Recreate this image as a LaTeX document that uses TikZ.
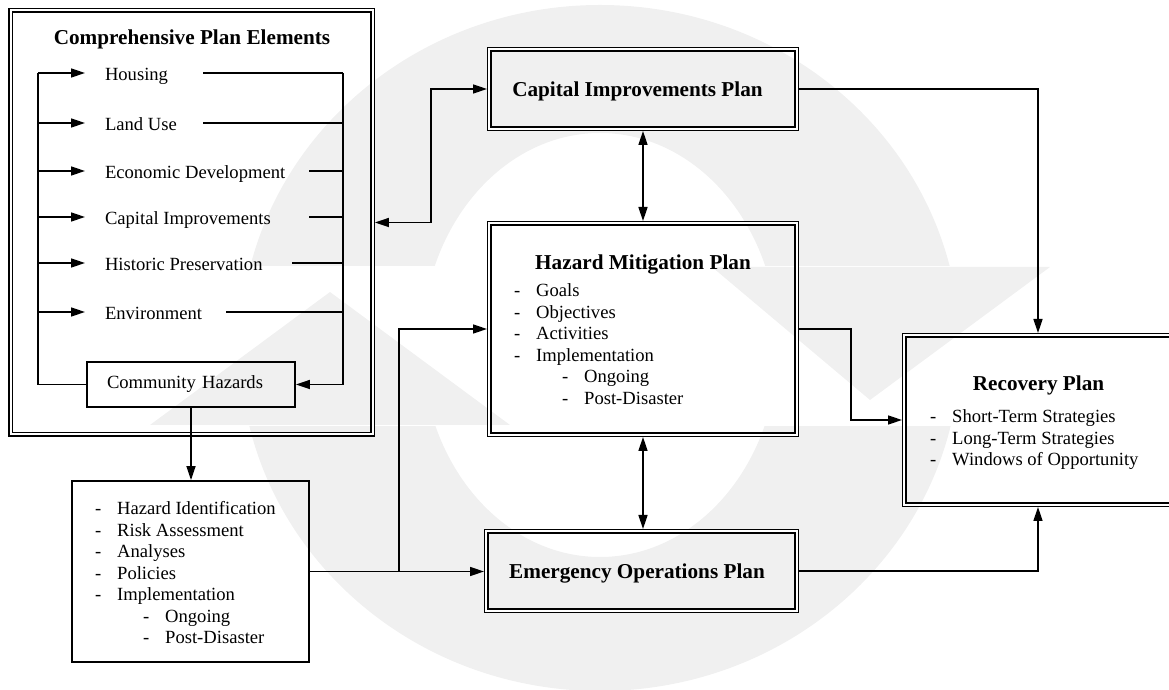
\documentclass[tikz,border=0pt]{standalone}
\usepackage{fontspec}
\setmainfont{Liberation Serif}
\usetikzlibrary{arrows.meta,positioning}

\newcommand{\bodyfont}{\fontsize{18.6}{21.5}\selectfont}
\newcommand{\headfont}{\fontsize{21.2}{25}\selectfont\bfseries}
\newcommand{\topdash}[1]{\makebox[22pt][l]{-}#1}
\newcommand{\subdash}[1]{\hspace*{48pt}\topdash{#1}}

\begin{document}
\begin{tikzpicture}[x=1pt, y=1pt, >={Triangle[length=14pt, width=9pt]},
    planbox/.style={draw, double, double distance=2pt, line width=1.4pt, inner sep=0pt, outer sep=2.4pt},
    plainbox/.style={draw, line width=1.8pt, inner sep=0pt, outer sep=0.9pt},
    head/.style={anchor=base, inner sep=0pt, font=\headfont},
    element/.style={anchor=west, inner sep=0pt, outer xsep=20pt, text height=16pt, text depth=0pt, font=\bodyfont},
    points/.style={anchor=base west, inner sep=0pt, font=\bodyfont},
    link/.style={line width=1.6pt},
    logo/.style={fill=gray!12}]

        \useasboundingbox (0,0) rectangle (1169,690);
        \clip (0,0) rectangle (1169,690);

        % faint logo behind the chart
        \begin{scope}
            \clip (0,424) rectangle (1169,690);
            \fill[logo, even odd rule] (600,342) ellipse [x radius=360pt, y radius=343pt] (600,345) ellipse [x radius=178pt, y radius=212pt];
        \end{scope}
        \begin{scope}
            \clip (0,0) rectangle (1169,263);
            \fill[logo, even odd rule] (600,342) ellipse [x radius=360pt, y radius=343pt] (600,345) ellipse [x radius=178pt, y radius=212pt];
        \end{scope}
        \fill[logo] (150,265) -- (510,265) -- (330,398) -- cycle;
        \fill[logo] (712,423) -- (1050,423) -- (870,290) -- cycle;

        % comprehensive plan
        \node[planbox, minimum width=362pt, minimum height=424pt] (cpe) at (191.5,467.5) {};
        \node[head] (cpeTitle) at (192,645) {Comprehensive Plan Elements};
        \node[element] (housing) at (85,617) {Housing};
        \node[element] (landUse) at (85,567) {Land Use};
        \node[element] (econDev) at (85,519) {Economic Development};
        \node[element] (capImp) at (85,473) {Capital Improvements};
        \node[element] (histPres) at (85,427) {Historic Preservation};
        \node[element] (environment) at (85,378) {Environment};
        \node[plainbox, text width=168pt, inner xsep=20pt, minimum height=45pt, align=left, font=\bodyfont] (hazards) at (191,305.5) {Community Hazards};

        \node[plainbox, minimum width=237pt, minimum height=181pt] (riskBox) at (190.5,118.5) {};
        \node[points] (riskList) at (95,175) {\begin{tabular}[t]{@{}l@{}}
            \topdash{Hazard Identification}\\
            \topdash{Risk Assessment}\\
            \topdash{Analyses}\\
            \topdash{Policies}\\
            \topdash{Implementation}\\
            \subdash{Ongoing}\\
            \subdash{Post-Disaster}
        \end{tabular}};

        % the other plans
        \node[planbox, minimum width=307.2pt, minimum height=79.2pt] (cip) at (643,601) {};
        \node[head] (cipTitle) at (637.5,593) {Capital Improvements Plan};

        \node[planbox, minimum width=307.2pt, minimum height=211.2pt] (hmp) at (643,361) {};
        \node[head] (hmpTitle) at (643,420) {Hazard Mitigation Plan};
        \node[points] (hmpList) at (514,393) {\begin{tabular}[t]{@{}l@{}}
            \topdash{Goals}\\
            \topdash{Objectives}\\
            \topdash{Activities}\\
            \topdash{Implementation}\\
            \subdash{Ongoing}\\
            \subdash{Post-Disaster}
        \end{tabular}};

        \node[planbox, minimum width=310.2pt, minimum height=79.2pt] (eop) at (641.5,119) {};
        \node[head] (eopTitle) at (637,111) {Emergency Operations Plan};

        \node[planbox, minimum width=267.2pt, minimum height=169.2pt] (recovery) at (1038,270) {};
        \node[head] (recoveryTitle) at (1038.5,299) {Recovery Plan};
        \node[points] (recoveryList) at (930,267.3) {\begin{tabular}[t]{@{}l@{}}
            \topdash{Short-Term Strategies}\\
            \topdash{Long-Term Strategies}\\
            \topdash{Windows of Opportunity}
        \end{tabular}};

        % loop inside the comprehensive plan
        \coordinate (spineL) at (38,617);
        \coordinate (spineR) at (343,617);
        \coordinate (housingEnd) at (203,617);
        \coordinate (landUseEnd) at (203,567);
        \coordinate (econDevEnd) at (309,519);
        \coordinate (capImpEnd) at (309,473);
        \coordinate (histPresEnd) at (292,427);
        \coordinate (environmentEnd) at (226,378);

        \draw[link] (hazards.west) -| (spineL);
        \draw[link,->] (spineR) |- (hazards.east);
        \draw[link,->] (spineL |- housing.west) -- (housing.west);
        \draw[link,->] (spineL |- landUse.west) -- (landUse.west);
        \draw[link,->] (spineL |- econDev.west) -- (econDev.west);
        \draw[link,->] (spineL |- capImp.west) -- (capImp.west);
        \draw[link,->] (spineL |- histPres.west) -- (histPres.west);
        \draw[link,->] (spineL |- environment.west) -- (environment.west);
        \draw[link] (housingEnd) -- (spineR |- housingEnd);
        \draw[link] (landUseEnd) -- (spineR |- landUseEnd);
        \draw[link] (econDevEnd) -- (spineR |- econDevEnd);
        \draw[link] (capImpEnd) -- (spineR |- capImpEnd);
        \draw[link] (histPresEnd) -- (spineR |- histPresEnd);
        \draw[link] (environmentEnd) -- (spineR |- environmentEnd);

        \draw[link,->] (hazards.south) -- (hazards.south |- riskBox.north);

        % links between the plans
        \coordinate (cipBend) at (431,601);
        \coordinate (hmpBend) at (851,361);
        \coordinate (riskSplit) at (399,118.5);

        \draw[link,<->] (cpe.east) -| (cipBend) -- (cip.west);
        \draw[link,<->] (cip.south) -- (hmp.north);
        \draw[link,<->] (hmp.south) -- (hmp.south |- eop.north);
        \draw[link,->] (cip.east) -| (recovery.north);
        \draw[link,->] (hmp.east) -- (hmpBend) |- (recovery.west);
        \draw[link,->] (eop.east) -| (recovery.south);
        \draw[link] (riskBox.east) -- (riskSplit);
        \draw[link,->] (riskSplit) |- (hmp.west);
        \draw[link,->] (riskSplit) -- (riskSplit -| eop.west);
\end{tikzpicture}
\end{document}
